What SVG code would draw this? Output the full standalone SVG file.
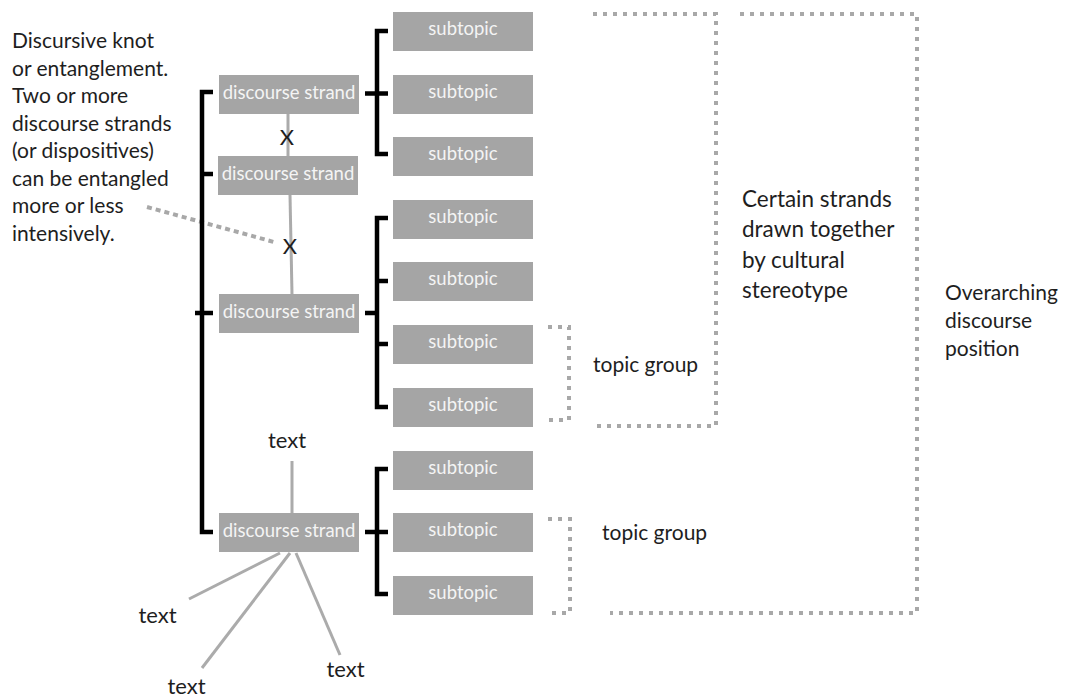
<svg xmlns="http://www.w3.org/2000/svg" width="1079" height="697" viewBox="0 0 1079 697">
  <style>
    .box { fill: #a5a5a5; }
    .boxtxt { font-family: Lato, "Open Sans", sans-serif; font-size: 18.5px; fill: #f4f4f4; text-anchor: middle; }
    .lbl { font-family: Lato, "Open Sans", sans-serif; fill: #1e1e1e; }
    .brace { fill: none; stroke: #000; stroke-width: 4.5; stroke-linejoin: miter; }
    .link { fill: none; stroke: #ababab; stroke-width: 3; }
    .dots { fill: none; stroke: #a8a8a8; stroke-width: 4; stroke-dasharray: 4 6; }
  </style>

  <!-- connectors: gray strand links, black brackets, dotted groupings -->
  <g id="connectors">
    <line class="link" x1="288" y1="113" x2="288" y2="156"/>
    <line class="link" x1="290" y1="195" x2="292" y2="294"/>
    <line class="link" x1="292" y1="461" x2="292" y2="513"/>
    <line class="link" x1="280" y1="553" x2="189" y2="599"/>
    <line class="link" x1="290" y1="553" x2="202" y2="668"/>
    <line class="link" x1="296" y1="553" x2="340" y2="655"/>
    <line class="dots" x1="147" y1="207" x2="274" y2="242" style="stroke-dasharray:5 4"/>

    <path class="brace" d="M213,92 H202 V532 H213 M202,174 H213 M195,313 H213"/>
    <path class="brace" d="M388,31 H377 V154 H388 M365,93.5 H388"/>
    <path class="brace" d="M388,218 H377 V407 H388 M377,281 H388 M377,344 H388 M365,313 H377"/>
    <path class="brace" d="M388,469 H377 V594 H388 M365,532 H388"/>

    <path class="dots" d="M548,327 H569 V420 H548"/>
    <path class="dots" d="M548,519 H570 V613 H548"/>
    <path class="dots" d="M593,14 H716 V426 H593"/>
    <path class="dots" d="M740,14 H917 V613 H610"/>
  </g>

  <g id="strand1"><rect class="box" x="219" y="75" width="140" height="39"/><text class="boxtxt" x="289" y="99">discourse strand</text></g>
  <g id="strand2"><rect class="box" x="218" y="156" width="140" height="39"/><text class="boxtxt" x="288" y="180">discourse strand</text></g>
  <g id="strand3"><rect class="box" x="219" y="294" width="140" height="39"/><text class="boxtxt" x="289" y="318">discourse strand</text></g>
  <g id="strand4"><rect class="box" x="219" y="513" width="140" height="39"/><text class="boxtxt" x="289" y="537">discourse strand</text></g>

  <g id="sub1"><rect class="box" x="393" y="12" width="140" height="39"/><text class="boxtxt" x="463" y="35">subtopic</text></g>
  <g id="sub2"><rect class="box" x="393" y="75" width="140" height="39"/><text class="boxtxt" x="463" y="98">subtopic</text></g>
  <g id="sub3"><rect class="box" x="393" y="137" width="140" height="39"/><text class="boxtxt" x="463" y="160">subtopic</text></g>
  <g id="sub4"><rect class="box" x="393" y="200" width="140" height="39"/><text class="boxtxt" x="463" y="223">subtopic</text></g>
  <g id="sub5"><rect class="box" x="393" y="262" width="140" height="39"/><text class="boxtxt" x="463" y="285">subtopic</text></g>
  <g id="sub6"><rect class="box" x="393" y="325" width="140" height="39"/><text class="boxtxt" x="463" y="348">subtopic</text></g>
  <g id="sub7"><rect class="box" x="393" y="388" width="140" height="39"/><text class="boxtxt" x="463" y="411">subtopic</text></g>
  <g id="sub8"><rect class="box" x="393" y="451" width="140" height="39"/><text class="boxtxt" x="463" y="474">subtopic</text></g>
  <g id="sub9"><rect class="box" x="393" y="513" width="140" height="39"/><text class="boxtxt" x="463" y="536">subtopic</text></g>
  <g id="sub10"><rect class="box" x="393" y="576" width="140" height="39"/><text class="boxtxt" x="463" y="599">subtopic</text></g>

  <g id="knot1"><text class="lbl" x="287" y="145" font-size="22" text-anchor="middle">X</text></g>
  <g id="knot2"><text class="lbl" x="290" y="254" font-size="22" text-anchor="middle">X</text></g>

  <g id="knot-note">
    <text class="lbl" font-size="21">
      <tspan x="12" y="48">Discursive knot</tspan>
      <tspan x="12" y="75.5">or entanglement.</tspan>
      <tspan x="12" y="103">Two or more</tspan>
      <tspan x="12" y="130.5">discourse strands</tspan>
      <tspan x="12" y="158">(or dispositives)</tspan>
      <tspan x="12" y="185.5">can be entangled</tspan>
      <tspan x="12" y="213">more or less</tspan>
      <tspan x="12" y="240.5">intensively.</tspan>
    </text>
  </g>

  <g id="text-top"><text class="lbl" x="287" y="448" font-size="22" text-anchor="middle">text</text></g>
  <g id="text-left"><text class="lbl" x="157.5" y="623" font-size="22" text-anchor="middle">text</text></g>
  <g id="text-bottom"><text class="lbl" x="186.5" y="694" font-size="22" text-anchor="middle">text</text></g>
  <g id="text-right"><text class="lbl" x="345.5" y="677" font-size="22" text-anchor="middle">text</text></g>

  <g id="topic-group1"><text class="lbl" x="593" y="372" font-size="21">topic group</text></g>
  <g id="topic-group2"><text class="lbl" x="602" y="540" font-size="21">topic group</text></g>

  <g id="stereotype">
    <text class="lbl" font-size="22.5">
      <tspan x="742" y="207">Certain strands</tspan>
      <tspan x="742" y="237">drawn together</tspan>
      <tspan x="742" y="268">by cultural</tspan>
      <tspan x="742" y="297.5">stereotype</tspan>
    </text>
  </g>

  <g id="overarching">
    <text class="lbl" font-size="21">
      <tspan x="945" y="299.5">Overarching</tspan>
      <tspan x="945" y="327.5">discourse</tspan>
      <tspan x="945" y="355.5">position</tspan>
    </text>
  </g>
</svg>
